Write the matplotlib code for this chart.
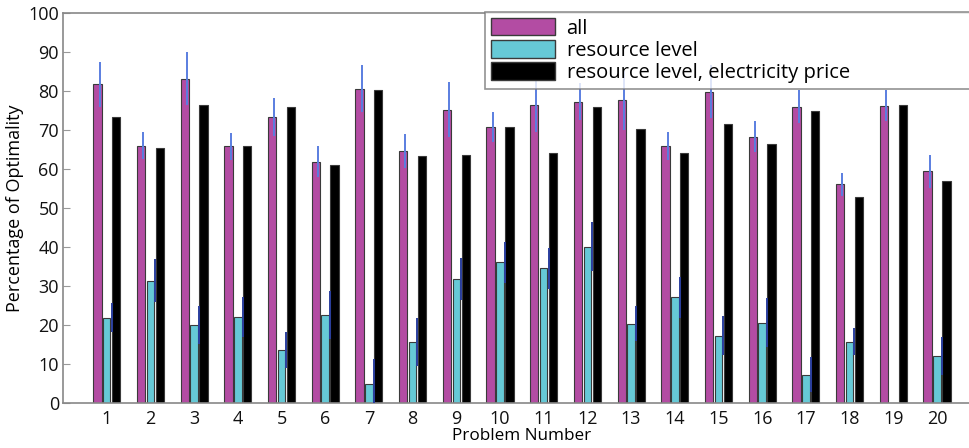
import numpy as np
import matplotlib
matplotlib.use("Agg")
import matplotlib.pyplot as plt
from matplotlib.patches import Patch

plt.rcParams['font.family'] = ['Open Sans', 'DejaVu Sans']

problems = list(range(1, 21))
all_vals = [81.7, 66.0, 83.2, 65.8, 73.3, 61.9, 80.6, 64.7, 75.2, 70.8,
            76.5, 77.3, 77.6, 65.8, 79.8, 68.3, 76.0, 56.1, 76.2, 59.4]
all_err = [5.8, 3.5, 6.7, 3.5, 4.8, 4.0, 6.0, 4.4, 7.0, 3.8,
           7.0, 4.8, 7.6, 3.6, 6.8, 3.9, 4.3, 3.0, 4.0, 4.2]
res_vals = [21.9, 31.4, 20.0, 22.1, 13.6, 22.6, 4.9, 15.7, 31.8, 36.1,
            34.5, 40.1, 20.3, 27.1, 17.3, 20.6, 7.2, 15.7, 0.0, 12.1]
res_err = [3.7, 5.5, 4.8, 5.1, 4.5, 6.2, 6.5, 6.2, 5.3, 5.2,
           5.2, 6.2, 4.5, 5.2, 4.9, 6.2, 4.5, 3.5, 0.0, 4.8]
price_vals = [73.3, 65.5, 76.5, 66.0, 75.8, 61.0, 80.2, 63.3, 63.5, 70.8,
              64.0, 76.0, 70.2, 64.0, 71.5, 66.5, 74.8, 52.9, 76.5, 56.8]
labels = ["all", "resource level", "resource level, electricity price"]

c_all = "#b34ca3"
c_res = "#66c9d6"
c_price = "#000000"
edge = "#3a3a3a"

fig = plt.figure(figsize=(9.70, 4.48), dpi=100)
ax = fig.add_axes([0.065, 0.1004, 0.946, 0.8706])

x = np.array(problems, dtype=float)
w = 0.19
ax.bar(x - 0.215, all_vals, w, color=c_all, edgecolor=edge, linewidth=0.8, zorder=2)
ax.bar(x, res_vals, w * 0.9, color=c_res, edgecolor=edge, linewidth=0.8, zorder=2)
ax.bar(x + 0.215, price_vals, w, color=c_price, edgecolor=edge, linewidth=0.8, zorder=2)

a = np.array(all_vals); ae = np.array(all_err)
r = np.array(res_vals); re = np.array(res_err)
ax.vlines(x - 0.165, a - ae, a + ae, color="#5a7ee0", linewidth=1.4, zorder=3)
ax.vlines(x + 0.11, np.clip(r - re, 0, None), r + re, color="#2a3f9e", linewidth=1.4, zorder=3)

ax.set_xlim(0, 21)
ax.set_ylim(0, 100)
ax.set_xticks(problems)
ax.set_xticklabels([str(p) for p in problems])
ax.set_yticks(range(0, 101, 10))
ax.tick_params(axis='x', length=0, labelsize=13, pad=5, colors='#111111')
ax.tick_params(axis='y', direction='in', length=5, color='#999999', labelsize=13, pad=3, labelcolor='#111111')
for s in ax.spines.values():
    s.set_color('#888888')
    s.set_linewidth(1.2)
ax.spines['right'].set_visible(False)

ax.set_ylabel("Percentage of Optimality", fontsize=13, labelpad=3)
ax.set_xlabel("Problem Number", fontsize=12.3, labelpad=0)

handles = [Patch(facecolor=c_all, edgecolor=edge),
           Patch(facecolor=c_res, edgecolor=edge),
           Patch(facecolor=c_price, edgecolor=edge)]
leg = fig.legend(handles, labels, loc='upper left',
                 bbox_to_anchor=(485 / 970, 1 - 12 / 448, 0.52, 0), mode='expand',
                 fontsize=14.5, frameon=True, fancybox=False, handlelength=3.2, handleheight=0.95,
                 labelspacing=0.08, borderpad=0.3, handletextpad=0.55, borderaxespad=0)
leg.get_frame().set_edgecolor('#777777')
leg.get_frame().set_linewidth(1.2)

fig.savefig("out.png", dpi=100)
